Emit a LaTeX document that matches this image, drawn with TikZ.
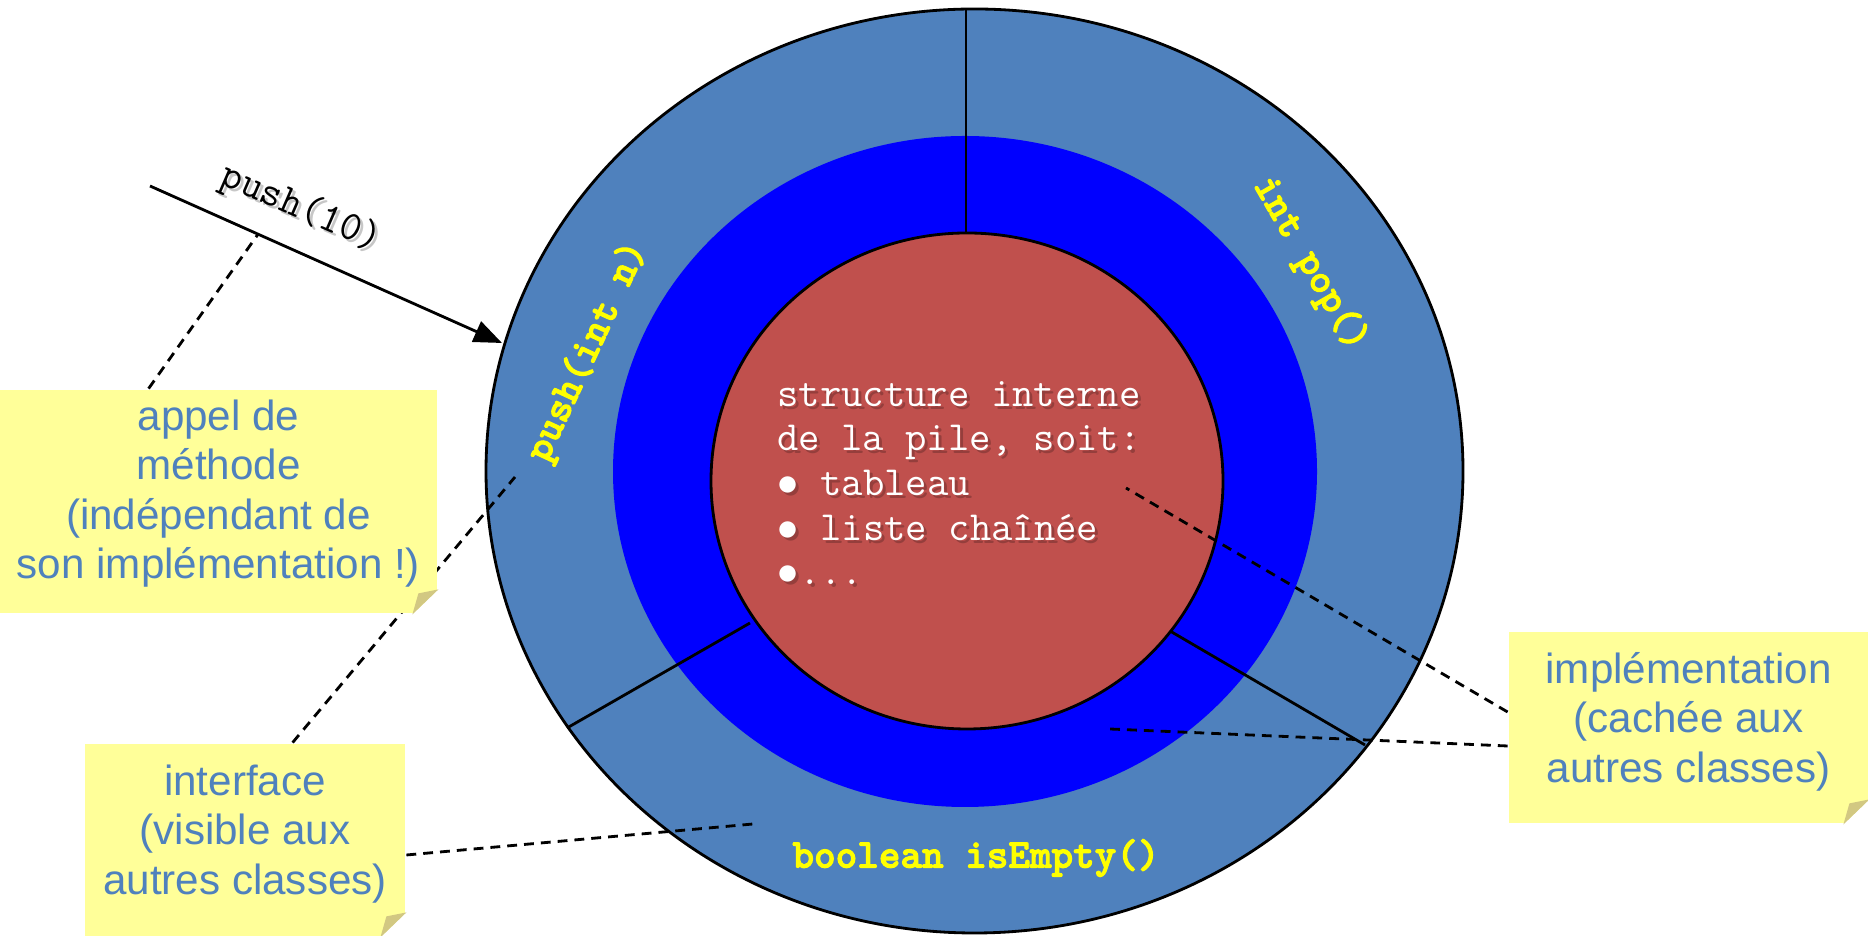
\documentclass[tikz,border=0pt]{standalone}
\usepackage{fontspec}
\setmainfont{Liberation Sans}
\newfontfamily\monogras{lmmonolt10-bold}[Extension=.otf, FakeBold=2.5]
\usetikzlibrary{calc,arrows.meta}

\definecolor{anneau}{HTML}{4F81BD}
\definecolor{coeur}{HTML}{0000FF}
\definecolor{pile}{HTML}{C0504D}
\definecolor{postit}{HTML}{FFFF99}
\definecolor{pli}{HTML}{D2C882}
\definecolor{jaune}{HTML}{FFFF00}

\tikzset{
  note/.style={fill=postit, inner sep=0pt},
  notetexte/.style={text=anneau, align=center, inner sep=0pt,
    font=\fontsize{12}{14.1}\selectfont},
  methode/.style={text=jaune, inner sep=0pt, font=\monogras\fontsize{11.7}{12}\selectfont},
  renvoi/.style={dash pattern=on 2.8pt off 2pt},
  ombre/.style={text=black, opacity=0.22},
}

% puce de la largeur d'un caractere
\newcommand{\puce}{\makebox[0.525em]{$\bullet$}}
% coin replie d'un post-it
\newcommand{\coin}[1]{%
  \fill[white] (#1.south east) -- ++(-0.26,0) -- ++(0.26,0.25) -- cycle;
  \fill[pli] ($(#1.south east)+(-0.26,0)$) -- ($(#1.south east)+(0,0.25)$)
    -- ($(#1.south east)+(-0.2,0.21)$) -- cycle;}

\begin{document}
\begin{tikzpicture}[line width=0.8pt]
  \useasboundingbox (0,0) rectangle (18.68,9.36);

  % les trois couches de la pile
  \filldraw[fill=anneau] (9.745,4.65) ellipse (4.885 and 4.62);
  \fill[coeur] (9.65,4.645) ellipse (3.52 and 3.355);

  % separations de l'interface
  \coordinate (haut1) at (9.66,9.27);
  \coordinate (haut2) at (9.66,6.9);
  \coordinate (gauche1) at (5.67,2.08);
  \coordinate (gauche2) at (7.5,3.13);
  \coordinate (droite1) at (13.65,1.91);
  \coordinate (droite2) at (11.7,3.05);
  \draw (haut1) -- (haut2);
  \draw (gauche1) -- (gauche2);
  \draw (droite1) -- (droite2);

  \filldraw[fill=pile] (9.67,4.55) ellipse (2.56 and 2.48);

  % methodes publiques
  \node[methode, rotate=65] (pushn) at (5.88,5.84) {push(int n)};
  \node[methode, rotate=-60] (pop) at (13.1,6.72) {int pop()};
  \node[methode] (empty) at (9.76,0.78) {boolean isEmpty()};

  % structure interne
  \newcommand{\interne}{structure interne\\de la pile, soit:\\\puce{} tableau\\\puce{} liste chaînée\\\puce...}
  \node[ombre, anchor=north west, align=left, inner sep=0pt,
    font=\ttfamily\fontsize{11.8}{12.7}\selectfont] at (7.79,5.53) {\interne};
  \node[text=white, anchor=north west, align=left, inner sep=0pt,
    font=\ttfamily\fontsize{11.8}{12.7}\selectfont] (structure) at (7.76,5.56) {\interne};

  % appel de methode
  \coordinate (appelA) at (1.50,7.50);
  \coordinate (appelB) at (5.02,5.93);
  \draw[-{Triangle[length=0.28cm,width=0.22cm]}] (appelA) -- (appelB);
  \path (appelA) -- (appelB) coordinate[pos=0.307] (appelM);
  \node[ombre, rotate=-23.5, font=\ttfamily\fontsize{11.8}{12}\selectfont] at (3.04,7.24) {push(10)};
  \node[rotate=-23.5, font=\ttfamily\fontsize{11.8}{12}\selectfont] (push10) at (3.01,7.27) {push(10)};

  % renvois vers les post-it
  \coordinate (bordA) at (5.15,4.59);
  \coordinate (bordB) at (7.53,1.12);
  \coordinate (dedansA) at (11.26,4.48);
  \coordinate (dedansB) at (11.10,2.07);

  \node[note, minimum width=3.20cm, minimum height=1.92cm] (interface) at (2.45,0.96) {};
  \node[notetexte] at ($(interface.center)+(0,0.06)$) {interface\\(visible aux\\autres classes)};
  \draw[renvoi] ($(interface.north west)+(2.09,0)$) -- (bordA);
  \draw[renvoi] ($(interface.east)+(0,-0.15)$) -- (bordB);

  \node[note, minimum width=4.37cm, minimum height=2.23cm] (appel) at (2.185,4.345) {};
  \node[notetexte] at ($(appel.center)+(0,0.08)$) {appel de\\méthode\\(indépendant de\\son implémentation !)};
  \draw[renvoi] ($(appel.north west)+(1.50,0)$) -- (appelM);

  \node[note, minimum width=3.59cm, minimum height=1.91cm] (impl) at (16.885,2.085) {};
  \node[notetexte] at ($(impl.center)+(0,0.06)$) {implémentation\\(cachée aux\\autres classes)};
  \draw[renvoi] ($(impl.west)+(0,0.155)$) -- (dedansA);
  \draw[renvoi] ($(impl.west)+(0,-0.185)$) -- (dedansB);

  \coin{appel}
  \coin{interface}
  \coin{impl}
\end{tikzpicture}
\end{document}
